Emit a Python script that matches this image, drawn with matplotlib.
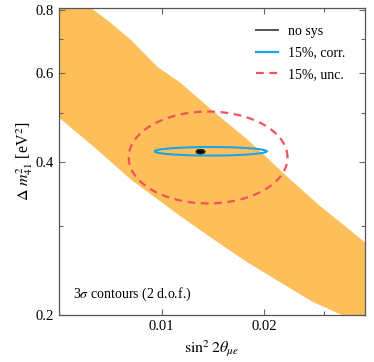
import numpy as np
from matplotlib import pyplot as plt
from matplotlib.lines import Line2D

plt.rcParams['font.family'] = ['Liberation Serif', 'DejaVu Serif']
plt.rcParams['mathtext.fontset'] = 'stix'

# allowed band (edges)
band_up_x = [0.0045, 0.0058, 0.0062, 0.00709, 0.00812, 0.00973, 0.01137, 0.01419,
             0.01784, 0.02385, 0.02917, 0.03337, 0.0395, 0.042]
band_up_y = [0.86, 0.86, 0.807, 0.754, 0.698, 0.617, 0.574, 0.504,
             0.444, 0.370, 0.328, 0.305, 0.278, 0.262]
band_lo_x = [0.0045, 0.0050, 0.00641, 0.00812, 0.01137, 0.01419, 0.01784,
             0.02228, 0.02783, 0.03337, 0.0395, 0.042]
band_lo_y = [0.51, 0.490, 0.426, 0.370, 0.313, 0.282, 0.254,
             0.232, 0.212, 0.2007, 0.1875, 0.18]

# contour extents: (x_min, x_max, y_min, y_max)
nosys_box = (0.01265, 0.01335, 0.4165, 0.4235)
corr_box = (0.00954, 0.0203, 0.4126, 0.429)
unc_box = (0.0080, 0.0234, 0.332, 0.504)


def contour(box, n=200):
    x0, x1, y0, y1 = np.log10(box)
    t = np.linspace(0, 2 * np.pi, n)
    cx, cy = (x0 + x1) / 2, (y0 + y1) / 2
    return 10 ** (cx + (x1 - x0) / 2 * np.cos(t)), 10 ** (cy + (y1 - y0) / 2 * np.sin(t))


fig = plt.figure(figsize=(3.74, 3.62), dpi=100)
ax = fig.add_axes([0.158, 0.130, 0.818, 0.848])
ax.set_xscale('log')
ax.set_yscale('log')

ax.fill(band_up_x + band_lo_x[::-1], band_up_y + band_lo_y[::-1],
        color='#FDBF5A', lw=0, zorder=1)

x, y = contour(unc_box)
ax.plot(x, y, color='#F2525C', lw=1.6, dashes=(3.5, 2.5), zorder=3)
x, y = contour(corr_box)
ax.plot(x, y, color='#1CA6E6', lw=1.5, zorder=4)
x, y = contour(nosys_box)
ax.fill(x, y, color='black', zorder=5)
ax.plot(x, y, color='#222222', lw=1.2, zorder=5)

ax.set_xlim(0.005, 0.0395)
ax.set_ylim(0.2, 0.807)

ax.set_xticks([0.01, 0.02])
ax.set_xticklabels(['0.01', '0.02'])
ax.set_xticks([0.03], minor=True)
ax.set_xticklabels([''], minor=True)
ax.set_yticks([0.2, 0.4, 0.6, 0.8])
ax.set_yticklabels(['0.2', '0.4', '0.6', '0.8'])
ax.set_yticks([0.3, 0.5, 0.7], minor=True)
ax.set_yticklabels(['', '', ''], minor=True)

ax.tick_params(which='both', direction='in', top=True, right=True,
               color='#666666', labelcolor='black', labelsize=10.5, width=0.8)
ax.tick_params(which='major', length=4)
ax.tick_params(which='minor', length=3)
for s in ax.spines.values():
    s.set_color('#555555')
    s.set_linewidth(0.9)

ax.set_xlabel(r'$\sin^2 2\theta_{\mu e}$', fontsize=11.5, labelpad=4)
ax.set_ylabel(r'$\Delta\ m^2_{41}$ [eV$^2$]', fontsize=11.5, labelpad=1)

ax.text(0.045, 0.055, r'3$\sigma$ contours (2 d.o.f.)', transform=ax.transAxes,
        fontsize=10)

handles = [Line2D([], [], color='#555555', lw=1.4),
           Line2D([], [], color='#1CA6E6', lw=1.6),
           Line2D([], [], color='#F2525C', lw=1.6, dashes=(3.5, 2.5))]
ax.legend(handles, ['no sys', '15%, corr.', '15%, unc.'], loc='upper right',
          bbox_to_anchor=(0.975, 0.985), frameon=False, fontsize=10,
          handlelength=1.6, handletextpad=0.7, labelspacing=0.62)

fig.savefig('out.png', dpi=100)
